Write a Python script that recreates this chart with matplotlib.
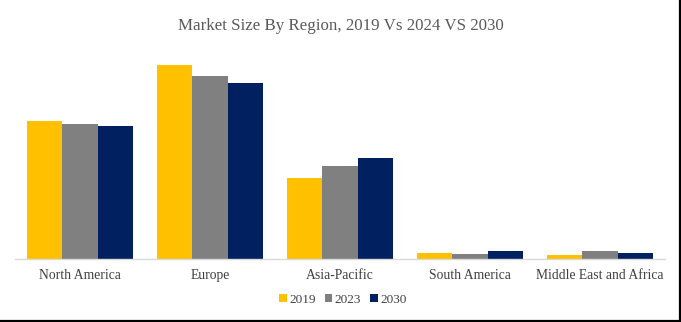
import numpy as np
import matplotlib.pyplot as plt

regions = ['North America', 'Europe', 'Asia-Pacific', 'South America', 'Middle East and Africa']
years = ['2019', '2023', '2030']
v2019 = [138.5, 194.5, 81.0, 6.0, 4.0]
v2023 = [135.0, 183.0, 93.5, 5.0, 8.5]
v2030 = [133.0, 176.0, 101.0, 8.0, 6.5]
colors = ['#FFC000', '#808080', '#002060']

plt.rcParams['font.family'] = ['Liberation Serif', 'DejaVu Serif']

fig = plt.figure(figsize=(6.81, 3.22), dpi=100)
ax = fig.add_axes([15/681, 63/322, 650/681, 214/322])

x = np.arange(len(regions))
w = 0.27
for i, (vals, c, lab) in enumerate(zip([v2019, v2023, v2030], colors, years)):
    ax.bar(x + (i - 1) * w, vals, width=w, color=c, label=lab, zorder=2)

ax.set_xlim(-0.5, len(regions) - 0.5)
ax.set_ylim(0, 214)
ax.set_xticks(x)
ax.set_xticklabels(regions, fontsize=9.8, color='#404040')
ax.tick_params(axis='x', length=0, pad=7)
ax.set_yticks([])
for s in ['top', 'right', 'left']:
    ax.spines[s].set_visible(False)
ax.spines['bottom'].set_color('#D9D9D9')
ax.spines['bottom'].set_linewidth(1)

fig.suptitle('Market Size By Region, 2019 Vs 2024 VS 2030', y=0.945,
             fontsize=12.2, color='#595959')

fig.legend(loc='center', bbox_to_anchor=(343/681, 1 - 300/322), ncol=3,
           frameon=False, fontsize=9.5, handlelength=0.55, handleheight=0.55,
           handletextpad=0.2, columnspacing=0.7, labelcolor='#404040')

# frame lines on the right and bottom edge
fig.add_artist(plt.Line2D([0, 679.5/681], [1.5/322, 1.5/322], color='black', lw=1.6))
fig.add_artist(plt.Line2D([679.5/681, 679.5/681], [1.5/322, 1], color='black', lw=1.6))

fig.savefig('out.png', dpi=100)
